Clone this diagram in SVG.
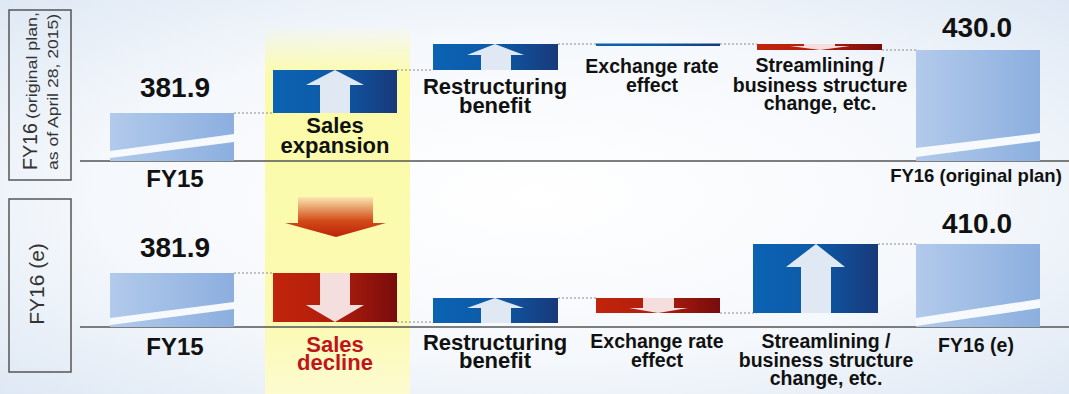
<svg xmlns="http://www.w3.org/2000/svg" width="1069" height="394" viewBox="0 0 1069 394">
<defs>
<radialGradient id="bg" cx="50%" cy="50%" r="75%">
<stop offset="0" stop-color="#ffffff"/>
<stop offset="0.55" stop-color="#f5f8fc"/>
<stop offset="1" stop-color="#dbe6f3"/>
</radialGradient>
<linearGradient id="yel" x1="0" y1="0" x2="0" y2="1">
<stop offset="0" stop-color="#fbfba8" stop-opacity="0"/>
<stop offset="0.14" stop-color="#fbfba8" stop-opacity="1"/>
<stop offset="0.8" stop-color="#fbfab2"/>
<stop offset="1" stop-color="#fdfbd0"/>
</linearGradient>
<linearGradient id="tot" x1="0" y1="0" x2="1" y2="0">
<stop offset="0" stop-color="#b2caeb"/>
<stop offset="1" stop-color="#8cafdf"/>
</linearGradient>
<linearGradient id="up" x1="0" y1="0" x2="1" y2="0">
<stop offset="0" stop-color="#0b63b2"/>
<stop offset="0.5" stop-color="#0d5aa8"/>
<stop offset="1" stop-color="#18397a"/>
</linearGradient>
<linearGradient id="dn" x1="0" y1="0" x2="1" y2="0">
<stop offset="0" stop-color="#c2240c"/>
<stop offset="0.5" stop-color="#b01e0c"/>
<stop offset="1" stop-color="#780c0c"/>
</linearGradient>
<linearGradient id="bigdn" x1="0" y1="0" x2="0" y2="1">
<stop offset="0" stop-color="#fbe7b0"/>
<stop offset="0.6" stop-color="#d24a16"/>
<stop offset="1" stop-color="#bb220a"/>
</linearGradient>
<style>
.t{font-family:"Liberation Sans",Arial,sans-serif;font-weight:bold;fill:#111;text-anchor:middle}
.v{font-size:28px}
.fy{font-size:24px}
.m{font-size:22px}
.s{font-size:19.5px}
.r{fill:#c0141c}
.dot{stroke:#8a8a8a;stroke-width:1;stroke-dasharray:2 2;fill:none}
.base{stroke:#555;stroke-width:1.5}
.gap{fill:#f7fafd}
.ab{fill:#dfe8f3}
.ar{fill:#f4dede}
.lbl{font-family:"Liberation Sans",Arial,sans-serif;fill:#333}
</style>
</defs>
<rect width="1069" height="394" fill="url(#bg)"/>
<rect x="265" y="25" width="145" height="369" fill="url(#yel)"/>

<g id="connectors">
<line class="base" x1="80" y1="161" x2="1069" y2="161"/>
<line class="base" x1="80" y1="327" x2="1069" y2="327"/>
<line class="dot" x1="234" y1="113" x2="273" y2="113"/>
<line class="dot" x1="397" y1="70" x2="433" y2="70"/>
<line class="dot" x1="558" y1="44" x2="596" y2="44"/>
<line class="dot" x1="720" y1="44" x2="757" y2="44"/>
<line class="dot" x1="882" y1="50" x2="916" y2="50"/>
<line class="dot" x1="234" y1="273" x2="273" y2="273"/>
<line class="dot" x1="397" y1="322" x2="433" y2="322"/>
<line class="dot" x1="558" y1="298" x2="596" y2="298"/>
<line class="dot" x1="720" y1="313" x2="757" y2="313"/>
<line class="dot" x1="878" y1="244" x2="916" y2="244"/>
</g>

<g id="label-top">
<rect x="9" y="10" width="62" height="170" fill="none" stroke="#555" stroke-width="1.5"/>
<text class="lbl" font-size="21" transform="translate(37,170) rotate(-90)" textLength="47" lengthAdjust="spacingAndGlyphs">FY16</text>
<text class="lbl" font-size="15" transform="translate(37,119) rotate(-90)" textLength="107" lengthAdjust="spacingAndGlyphs">(original plan,</text>
<text class="lbl" font-size="15" transform="translate(58,170) rotate(-90)" textLength="156" lengthAdjust="spacingAndGlyphs">as of April 28, 2015)</text>
</g>
<g id="label-bottom">
<rect x="9" y="199" width="62" height="173" fill="none" stroke="#555" stroke-width="1.5"/>
<text class="lbl" font-size="21" text-anchor="middle" transform="translate(44,284) rotate(-90)">FY16 (e)</text>
</g>

<g id="top-fy15">
<rect x="110" y="113" width="124" height="48" fill="url(#tot)"/>
<polygon class="gap" points="110,151 234,134 234,142 110,158"/>
<text class="t v" x="175" y="97">381.9</text>
<text class="t fy" x="175" y="187">FY15</text>
</g>
<g id="top-sales">
<rect x="273" y="70" width="124" height="43" fill="url(#up)"/>
<polygon class="ab" points="335,70 364,85 350,85 350,113 320,113 320,85 306,85"/>
<text class="t m" x="335" y="133">Sales</text>
<text class="t m" x="335" y="153">expansion</text>
</g>
<g id="top-restructuring">
<rect x="433" y="44" width="125" height="26" fill="url(#up)"/>
<polygon class="ab" points="495,44 524,55 511,55 511,70 481,70 481,55 467,55"/>
<text class="t m" x="495" y="94">Restructuring</text>
<text class="t m" x="495" y="113">benefit</text>
</g>
<g id="top-exchange">
<rect x="596" y="43.5" width="124" height="2.5" fill="url(#up)"/>
<text class="t s" x="652" y="73">Exchange rate</text>
<text class="t s" x="652" y="92">effect</text>
</g>
<g id="top-streamlining">
<rect x="757" y="44" width="125" height="6" fill="url(#dn)"/>
<polygon class="ar" points="804,44 835,44 835,46 850,46 820,50 790,46 804,46"/>
<text class="t s" x="820" y="72">Streamlining /</text>
<text class="t s" x="820" y="92">business structure</text>
<text class="t s" x="820" y="110">change, etc.</text>
</g>
<g id="top-fy16plan">
<rect x="916" y="50" width="124" height="111" fill="url(#tot)"/>
<polygon class="gap" points="916,148 1040,133 1040,141 916,157"/>
<text class="t v" x="977" y="37">430.0</text>
<text class="t" font-size="18.5" x="976" y="182">FY16 (original plan)</text>
</g>

<g id="bottom-fy15">
<rect x="110" y="273" width="124" height="54" fill="url(#tot)"/>
<polygon class="gap" points="110,318 234,302 234,309 110,325"/>
<text class="t v" x="175" y="257">381.9</text>
<text class="t fy" x="175" y="355">FY15</text>
</g>
<g id="bottom-sales">
<polygon fill="url(#bigdn)" points="298,197 373,197 373,223 386,223 336,237 285,223 298,223"/>
<rect x="273" y="273" width="124" height="49" fill="url(#dn)"/>
<polygon class="ar" points="320,273 350,273 350,305 364,305 335,322 306,305 320,305"/>
<text class="t m r" x="335" y="352">Sales</text>
<text class="t m r" x="335" y="370">decline</text>
</g>
<g id="bottom-restructuring">
<rect x="433" y="298" width="125" height="25" fill="url(#up)"/>
<polygon class="ab" points="495,298 524,308 511,308 511,323 481,323 481,308 467,308"/>
<text class="t m" x="495" y="350">Restructuring</text>
<text class="t m" x="495" y="368">benefit</text>
</g>
<g id="bottom-exchange">
<rect x="596" y="298" width="124" height="15" fill="url(#dn)"/>
<polygon class="ar" points="643,298 674,298 674,308 688,308 658,313 629,308 643,308"/>
<text class="t s" x="657" y="348">Exchange rate</text>
<text class="t s" x="657" y="367">effect</text>
</g>
<g id="bottom-streamlining">
<rect x="753" y="244" width="125" height="69" fill="url(#up)"/>
<polygon class="ab" points="816,244 845,267 831,267 831,313 801,313 801,267 786,267"/>
<text class="t s" x="826" y="348">Streamlining /</text>
<text class="t s" x="826" y="367">business structure</text>
<text class="t s" x="826" y="385">change, etc.</text>
</g>
<g id="bottom-fy16e">
<rect x="916" y="244" width="124" height="83" fill="url(#tot)"/>
<polygon class="gap" points="916,318 1040,299 1040,308 916,326"/>
<text class="t v" x="977" y="233">410.0</text>
<text class="t" font-size="19.5" x="976" y="352">FY16 (e)</text>
</g>
</svg>
